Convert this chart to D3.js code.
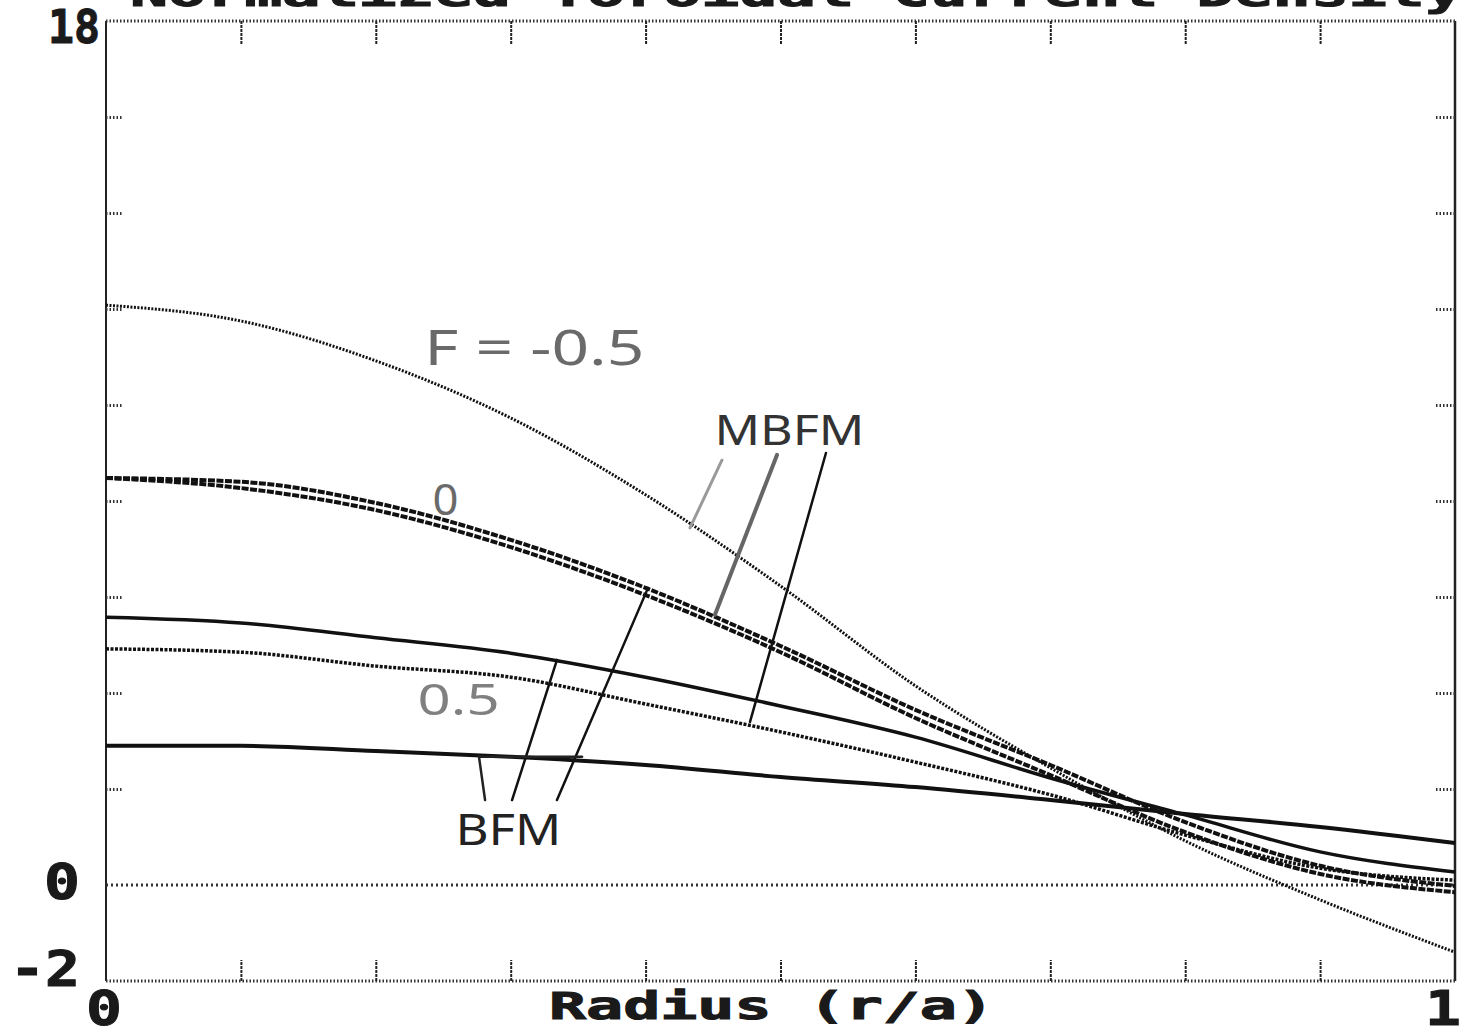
<!DOCTYPE html>
<html>
<head>
<meta charset="utf-8">
<script src="https://cdn.jsdelivr.net/npm/d3@7/dist/d3.min.js"></script>
<style>
  body { margin: 0; background: #fff; }
  svg { display: block; }
</style>
</head>
<body>
<div id="chart"></div>
<script>
// values, radius r/a from 0 to 1
var radius = [0, 0.1, 0.2, 0.3, 0.4, 0.5, 0.6, 0.7, 0.8, 0.9, 1.0];

var mbfmMinusHalf = [12.08, 11.75, 10.92, 9.73, 8.13, 6.23, 4.15, 2.44, 0.92, -0.31, -1.40];
var mbfmZero      = [8.48, 8.40, 7.96, 7.19, 6.19, 4.98, 3.65, 2.50, 1.31, 0.40, -0.02];
var bfmZero       = [8.48, 8.27, 7.81, 7.04, 6.04, 4.85, 3.48, 2.29, 1.10, 0.23, -0.15];
var bfmHalf       = [5.58, 5.46, 5.15, 4.83, 4.33, 3.73, 3.08, 2.23, 1.46, 0.69, 0.27];
var mbfmHalf      = [4.92, 4.85, 4.56, 4.33, 3.77, 3.19, 2.56, 1.88, 1.04, 0.35, 0.10];
var bfmLow        = [2.90, 2.90, 2.79, 2.67, 2.50, 2.25, 2.04, 1.77, 1.48, 1.21, 0.875];

var yTickLabels = [18, 0, -2];
var xTickLabels = [0, 1];
var xMajorTicks = [0.1, 0.2, 0.3, 0.4, 0.5, 0.6, 0.7, 0.8, 0.9];
var yMinorTicks = [2, 4, 6, 8, 10, 12, 14, 16];

var titleText = "Normalized Toroidal Current Density";
var xTitle = "Radius (r/a)";

// hand written notes on the plot (data coordinates)
var notes = [
  {text: "F = -0.5", r: 0.236, v: 10.83, len: 220, size: 50, color: "#6a6a6a"},
  {text: "0",        r: 0.242, v: 7.71,  len: 26,  size: 44, color: "#6a6a6a"},
  {text: "0.5",      r: 0.231, v: 3.54,  len: 82,  size: 44, color: "#808080"},
  {text: "MBFM",     r: 0.451, v: 9.17,  len: 150, size: 42, color: "#333"},
  {text: "BFM",      r: 0.259, v: 0.83,  len: 106, size: 44, color: "#222"}
];
var pointers = [
  {r1: 0.4566, v1: 8.85, r2: 0.4329, v2: 7.44, color: "#9a9a9a", w: 3},
  {r1: 0.4974, v1: 8.96, r2: 0.4514, v2: 5.63, color: "#666",    w: 4},
  {r1: 0.5337, v1: 9.00, r2: 0.4774, v2: 3.40, color: "#111",    w: 2.5},
  {r1: 0.3343, v1: 1.77, r2: 0.4018, v2: 6.19, color: "#111",    w: 2.5},
  {r1: 0.3010, v1: 1.77, r2: 0.3343, v2: 4.69, color: "#111",    w: 2.5},
  {r1: 0.2810, v1: 1.77, r2: 0.2765, v2: 2.67, color: "#222",    w: 2.5},
  {r1: 0.2765, v1: 2.67, r2: 0.3529, v2: 2.67, color: "#222",    w: 2.5}
];

var width = 1471, height = 1035;

var svg = d3.select("#chart")
  .append("svg")
  .attr("width", width)
  .attr("height", height);

var x = d3.scaleLinear().domain([0, 1]).range([106, 1455]);
var y = d3.scaleLinear().domain([-2, 18]).range([981, 21]);

// frame: solid sides, dotted top / bottom like the printer output
svg.append("line")
  .attr("x1", x(0)).attr("x2", x(0)).attr("y1", y(18)).attr("y2", y(-2))
  .attr("stroke", "#222").attr("stroke-width", 2);
svg.append("line")
  .attr("x1", x(1)).attr("x2", x(1)).attr("y1", y(18)).attr("y2", y(-2))
  .attr("stroke", "#222").attr("stroke-width", 2.5);
[18, -2].forEach(function(v) {
  svg.append("line")
    .attr("x1", x(0)).attr("x2", x(1)).attr("y1", y(v)).attr("y2", y(v))
    .attr("stroke", "#333").attr("stroke-width", 3)
    .attr("stroke-dasharray", "1.5,2");
});
// zero line
svg.append("line")
  .attr("x1", x(0)).attr("x2", x(1)).attr("y1", y(0)).attr("y2", y(0))
  .attr("stroke", "#333").attr("stroke-width", 3)
  .attr("stroke-dasharray", "2,3");

// ticks through d3 axes, domain path removed
var topAxis = svg.append("g")
  .attr("transform", "translate(0," + y(18) + ")")
  .call(d3.axisTop(x).tickValues(xMajorTicks).tickSize(-23).tickFormat(""));
var bottomAxis = svg.append("g")
  .attr("transform", "translate(0," + y(-2) + ")")
  .call(d3.axisBottom(x).tickValues(xMajorTicks).tickSize(-21).tickFormat(""));
var leftAxis = svg.append("g")
  .attr("transform", "translate(" + x(0) + ",0)")
  .call(d3.axisLeft(y).tickValues(yMinorTicks).tickSize(-16).tickFormat(""));
var rightAxis = svg.append("g")
  .attr("transform", "translate(" + x(1) + ",0)")
  .call(d3.axisRight(y).tickValues(yMinorTicks).tickSize(-20).tickFormat(""));

[topAxis, bottomAxis, leftAxis, rightAxis].forEach(function(g) {
  g.select(".domain").remove();
});
topAxis.selectAll(".tick line").attr("stroke", "#222").attr("stroke-width", 2).attr("stroke-dasharray", "3,1");
bottomAxis.selectAll(".tick line").attr("stroke", "#222").attr("stroke-width", 2).attr("stroke-dasharray", "3,1");
leftAxis.selectAll(".tick line").attr("stroke", "#333").attr("stroke-width", 3).attr("stroke-dasharray", "1.5,2");
rightAxis.selectAll(".tick line").attr("stroke", "#333").attr("stroke-width", 3).attr("stroke-dasharray", "1.5,2");

// curves
var series = [
  {name: "MBFM F=-0.5", values: mbfmMinusHalf, w: 3,   dash: "2,1.5"},
  {name: "MBFM F=0",    values: mbfmZero,      w: 4,   dash: "7,1.5"},
  {name: "BFM F=0",     values: bfmZero,       w: 4,   dash: "7,1.5"},
  {name: "BFM F=0.5",   values: bfmHalf,       w: 3.5, dash: null},
  {name: "MBFM F=0.5",  values: mbfmHalf,      w: 3.5, dash: "3,1.5"},
  {name: "BFM low",     values: bfmLow,        w: 4,   dash: null}
];

var line = d3.line()
  .x(function(d) { return x(d[0]); })
  .y(function(d) { return y(d[1]); })
  .curve(d3.curveMonotoneX);

series.forEach(function(s) {
  var pts = radius.map(function(r, i) { return [r, s.values[i]]; });
  svg.append("path")
    .datum(pts)
    .attr("d", line)
    .attr("fill", "none")
    .attr("stroke", "#111")
    .attr("stroke-width", s.w)
    .attr("stroke-dasharray", s.dash);
});

// pointer strokes
svg.selectAll(".pointer")
  .data(pointers)
  .enter()
  .append("line")
  .attr("class", "pointer")
  .attr("x1", function(d) { return x(d.r1); })
  .attr("y1", function(d) { return y(d.v1); })
  .attr("x2", function(d) { return x(d.r2); })
  .attr("y2", function(d) { return y(d.v2); })
  .attr("stroke", function(d) { return d.color; })
  .attr("stroke-width", function(d) { return d.w; })
  .attr("stroke-linecap", "round");

svg.selectAll(".note")
  .data(notes)
  .enter()
  .append("text")
  .attr("class", "note")
  .attr("x", function(d) { return x(d.r); })
  .attr("y", function(d) { return y(d.v); })
  .attr("textLength", function(d) { return d.len; })
  .attr("lengthAdjust", "spacingAndGlyphs")
  .style("font-family", "'Noto Sans', sans-serif")
  .style("font-size", function(d) { return d.size + "px"; })
  .attr("fill", function(d) { return d.color; })
  .text(function(d) { return d.text; });

// tick labels, blocky printer font
function blockText(txt, px, py, size, len, anchor) {
  var t = svg.append("text")
    .attr("x", px).attr("y", py)
    .style("font-family", "'DejaVu Sans Mono', monospace")
    .style("font-weight", "bold")
    .style("font-size", size + "px")
    .attr("fill", "#1a1a1a")
    .attr("stroke", "#1a1a1a").attr("stroke-width", 1)
    .attr("text-anchor", anchor || "start")
    .text(txt);
  if (len) t.attr("textLength", len).attr("lengthAdjust", "spacingAndGlyphs");
  return t;
}

// left labels: "18" sits flush with the axis, "0" and "-2" a little further out
yTickLabels.forEach(function(v) {
  var lbl = String(v);
  var w = lbl.length == 1 ? 36 : (v < 0 ? 70 : 52);
  var right = v == 18 ? 100 : 80;
  var py = v == 18 ? y(v) + 22 : (v == 0 ? y(v) + 14 : y(v) + 5);
  blockText(lbl, right - w, py, v == 18 ? 46 : 50, w);
});
xTickLabels.forEach(function(v) {
  blockText(String(v), x(v) - (v == 0 ? 20 : 30), 1025, 48, 36);
});

blockText(xTitle, 549, 1019, 37, 445);
// title is cut off at the top edge of the scan
blockText(titleText, 130, 6, 37, 1333);
</script>
</body>
</html>
